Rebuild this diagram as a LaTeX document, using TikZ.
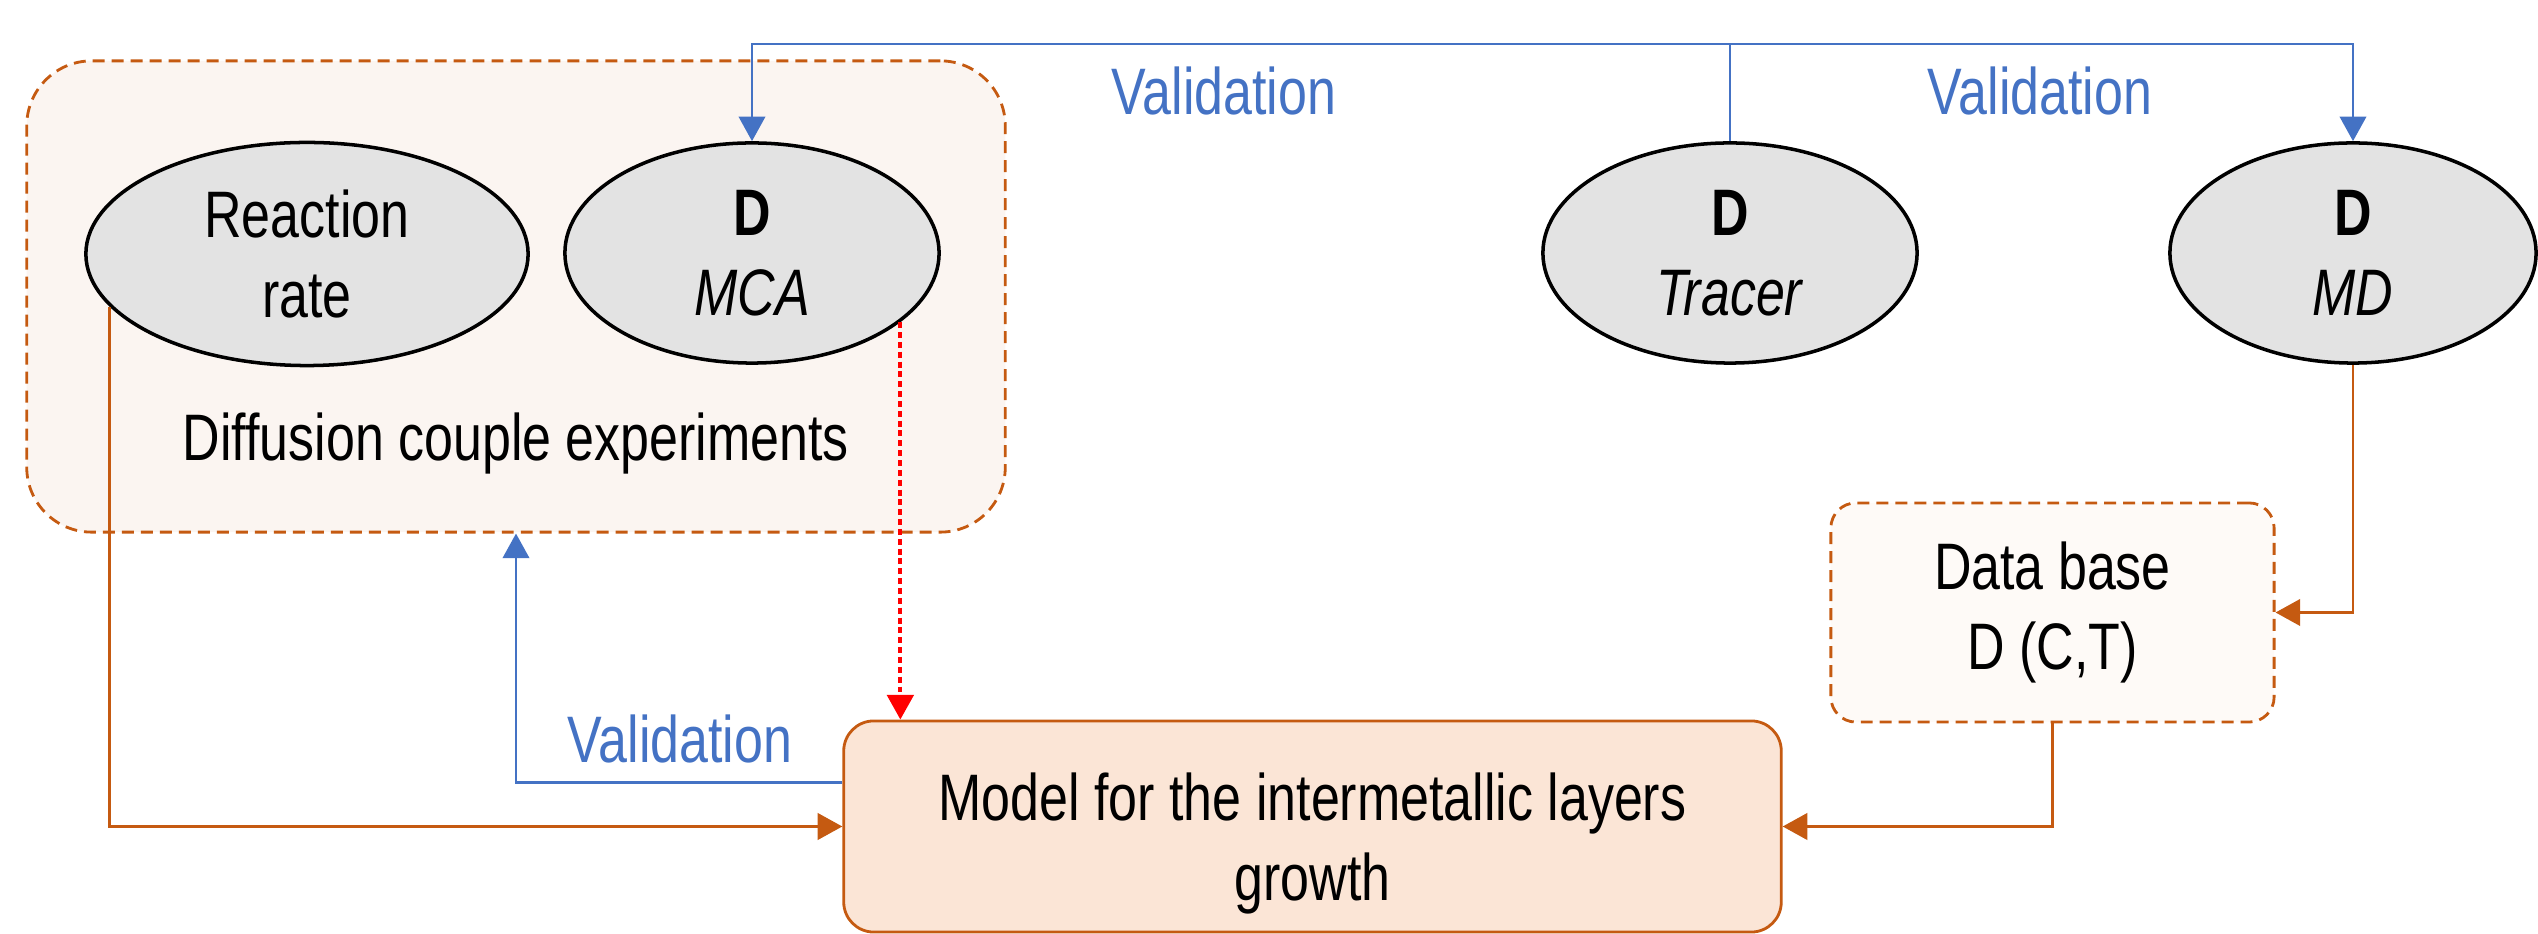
\documentclass[tikz,border=0pt]{standalone}
\usepackage{fontspec}
\setmainfont{Liberation Sans}[FakeStretch=0.79]
\usetikzlibrary{arrows.meta,shapes.geometric}
\definecolor{orng}{HTML}{C55A11}
\definecolor{blu}{HTML}{4472C4}
\definecolor{grpfill}{HTML}{FBF5F1}
\definecolor{mdlfill}{HTML}{FBE5D6}
\definecolor{dbfill}{HTML}{FEFAF7}
\definecolor{ovalfill}{HTML}{E3E3E3}
\newcommand\dfont{\fontsize{18.7}{22.7}\selectfont}

\begin{document}
\begin{tikzpicture}[x=0.01cm,y=-0.01cm,
  every node/.style={font=\dfont,align=center},
  oval/.style={ellipse,draw,fill=ovalfill,line width=1pt,inner sep=0pt,
    minimum width=3.74cm,minimum height=2.2cm},
  grpbox/.style={draw=orng,fill=grpfill,rounded corners=0.65cm,line width=0.8pt,
    dash pattern=on 3.4pt off 2pt,inner sep=0pt,minimum width=9.78cm,minimum height=4.71cm},
  dbbox/.style={draw=orng,fill=dbfill,rounded corners=0.25cm,line width=0.8pt,
    dash pattern=on 3.4pt off 2pt,inner sep=0pt,minimum width=4.43cm,minimum height=2.19cm},
  mbox/.style={draw=orng,fill=mdlfill,rounded corners=0.3cm,line width=0.8pt,
    inner sep=0pt,minimum width=9.37cm,minimum height=2.11cm},
  lbl/.style={anchor=base,text=blu},
  arr/.style={-{Triangle[length=7pt,width=7.5pt]}},
  valid/.style={draw=blu,line width=0.8pt},
  feed/.style={draw=orng,line width=0.8pt},
  mdot/.style={draw=red,line width=1.1pt,dash pattern=on 1.7pt off 1.1pt}]
\useasboundingbox (0,0) rectangle (2538,934);

% nodes
\node[grpbox] (grp) at (516,296.5) {};
\node[oval,minimum width=4.42cm,minimum height=2.23cm] (rr) at (307,254) {Reaction\\rate};
\node[oval] (mca) at (752,253) {\textbf{D}\\\textit{MCA}};
\node[oval] (tr) at (1730,253) {\textbf{D}\\\textit{Tracer}};
\node[oval,minimum width=3.66cm] (md) at (2353,253) {\textbf{D}\\\textit{MD}};
\node[anchor=base] (dce) at (516,461) {Diffusion couple experiments};
\node[dbbox] (db) at (2052.5,612.5) {Data base\\D (C,T)};
\node[mbox] (model) at (1312.5,826.5) {};
\node (mtxt) at ([yshift=-0.17cm]model.center) {Model for the intermetallic layers\\growth};
\coordinate (vtop) at (1730,44);

% labels
\node[lbl] (v1) at (1224,115) {Validation};
\node[lbl] (v2) at (2040,115) {Validation};
\node[lbl] (v3) at (680,763) {Validation};

% arrows
\draw[valid] (tr.north) -- (vtop);
\draw[valid,arr] (vtop) -| (mca.north);
\draw[valid,arr] (vtop) -| (md.north);
\draw[valid,arr] ([yshift=0.44cm]model.west) -| (grp.south);
\draw[feed,arr] (rr.195) |- (model.west);
\draw[feed,arr] (md.south) |- (db.east);
\draw[feed,arr] (db.south) |- (model.east);
\draw[mdot,arr] (mca.335) -- (mca.335 |- model.north);
\end{tikzpicture}
\end{document}
